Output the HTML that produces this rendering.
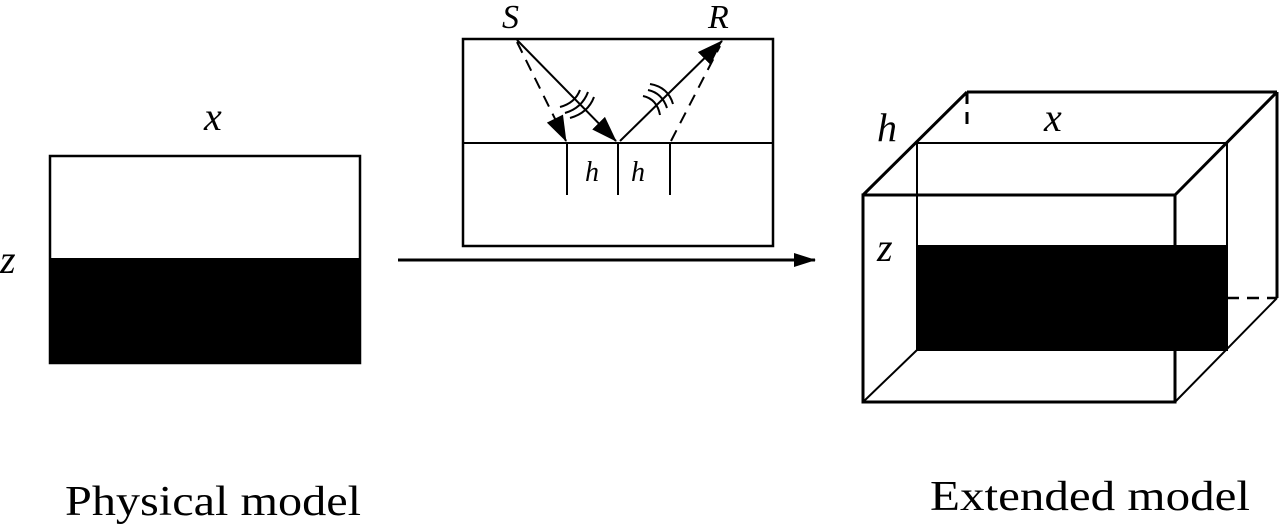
<!DOCTYPE html>
<html><head><style>body{margin:0;background:#fff}svg{display:block}</style></head><body>
<svg width="1280" height="528" xmlns="http://www.w3.org/2000/svg" font-family="Liberation Serif, serif">
<defs>
<marker id="ab" markerWidth="22" markerHeight="14" refX="21" refY="7" orient="auto" markerUnits="userSpaceOnUse"><path d="M0,0 L22,7 L0,14 z"/></marker>
<marker id="am" markerWidth="26" markerHeight="18" refX="25" refY="9" orient="auto" markerUnits="userSpaceOnUse"><path d="M0,0 L26,9 L0,18 z"/></marker></defs>
<!-- left -->
<rect x="50" y="156" width="310" height="207" fill="#fff" stroke="#000" stroke-width="2.5"/>
<rect x="50" y="258" width="310" height="106" fill="#000"/>
<text x="204" y="130" font-size="40" font-style="italic">x</text>
<text x="0" y="273" font-size="40" font-style="italic">z</text>
<line x1="398" y1="260" x2="815" y2="260" stroke="#000" stroke-width="3" marker-end="url(#ab)"/>
<!-- center -->
<g stroke="#000" fill="none">
<rect x="463" y="39" width="310" height="207" stroke-width="2.5"/>
<line x1="463" y1="143" x2="773" y2="143" stroke-width="2"/>
<line x1="567" y1="143" x2="567" y2="195" stroke-width="2"/>
<line x1="618" y1="143" x2="618" y2="195" stroke-width="2"/>
<line x1="670" y1="143" x2="670" y2="195" stroke-width="2"/>
<line x1="517" y1="40" x2="616" y2="141" stroke-width="2" marker-end="url(#am)"/>
<line x1="620" y1="141" x2="722" y2="41" stroke-width="2" marker-end="url(#am)"/>
<line x1="517" y1="42" x2="566" y2="141" stroke-width="2" stroke-dasharray="12,8" marker-end="url(#am)"/>
<line x1="671" y1="141" x2="720" y2="46" stroke-width="2" stroke-dasharray="12,8"/>
<path d="M560,107 Q575,103 580,90 M565,113 Q582,108 588,92 M570,118 Q588,113 594,97" stroke-width="2"/>
<path d="M648,90 Q662,93 667,108 M643,96 Q657,99 660,115 M650,84 Q668,87 673,104" stroke-width="2"/>
</g>
<text x="502" y="28" font-size="34" font-style="italic">S</text>
<text x="708" y="28" font-size="34" font-style="italic">R</text>
<text x="585" y="181" font-size="28" font-style="italic">h</text>
<text x="631" y="181" font-size="28" font-style="italic">h</text>
<!-- right box -->
<rect x="917" y="245" width="310" height="105" fill="#000"/>
<g stroke="#000" fill="none">
<rect x="917" y="143" width="310" height="207" stroke-width="2"/>
<line x1="863" y1="402" x2="917" y2="350" stroke-width="2"/>
<line x1="1175" y1="402" x2="1277" y2="298" stroke-width="2"/>
<line x1="1227" y1="298" x2="1277" y2="298" stroke-width="2.5" stroke-dasharray="12,8"/>
<line x1="967" y1="92" x2="967" y2="132" stroke-width="3" stroke-dasharray="12,8"/>
<rect x="863" y="195" width="312" height="207" stroke-width="3"/>
<line x1="863" y1="195" x2="967" y2="92" stroke-width="3"/>
<line x1="1175" y1="195" x2="1277" y2="92" stroke-width="3"/>
<line x1="967" y1="92" x2="1277" y2="92" stroke-width="3"/>
<line x1="1277" y1="92" x2="1277" y2="298" stroke-width="3"/>
</g>
<text x="1044" y="131" font-size="40" font-style="italic">x</text>
<text x="877" y="141" font-size="40" font-style="italic">h</text>
<text x="877" y="261" font-size="40" font-style="italic">z</text>
<text x="65" y="515" font-size="42" textLength="296" lengthAdjust="spacingAndGlyphs">Physical model</text>
<text x="930" y="510" font-size="42" textLength="320" lengthAdjust="spacingAndGlyphs">Extended model</text>
</svg>
</body></html>
